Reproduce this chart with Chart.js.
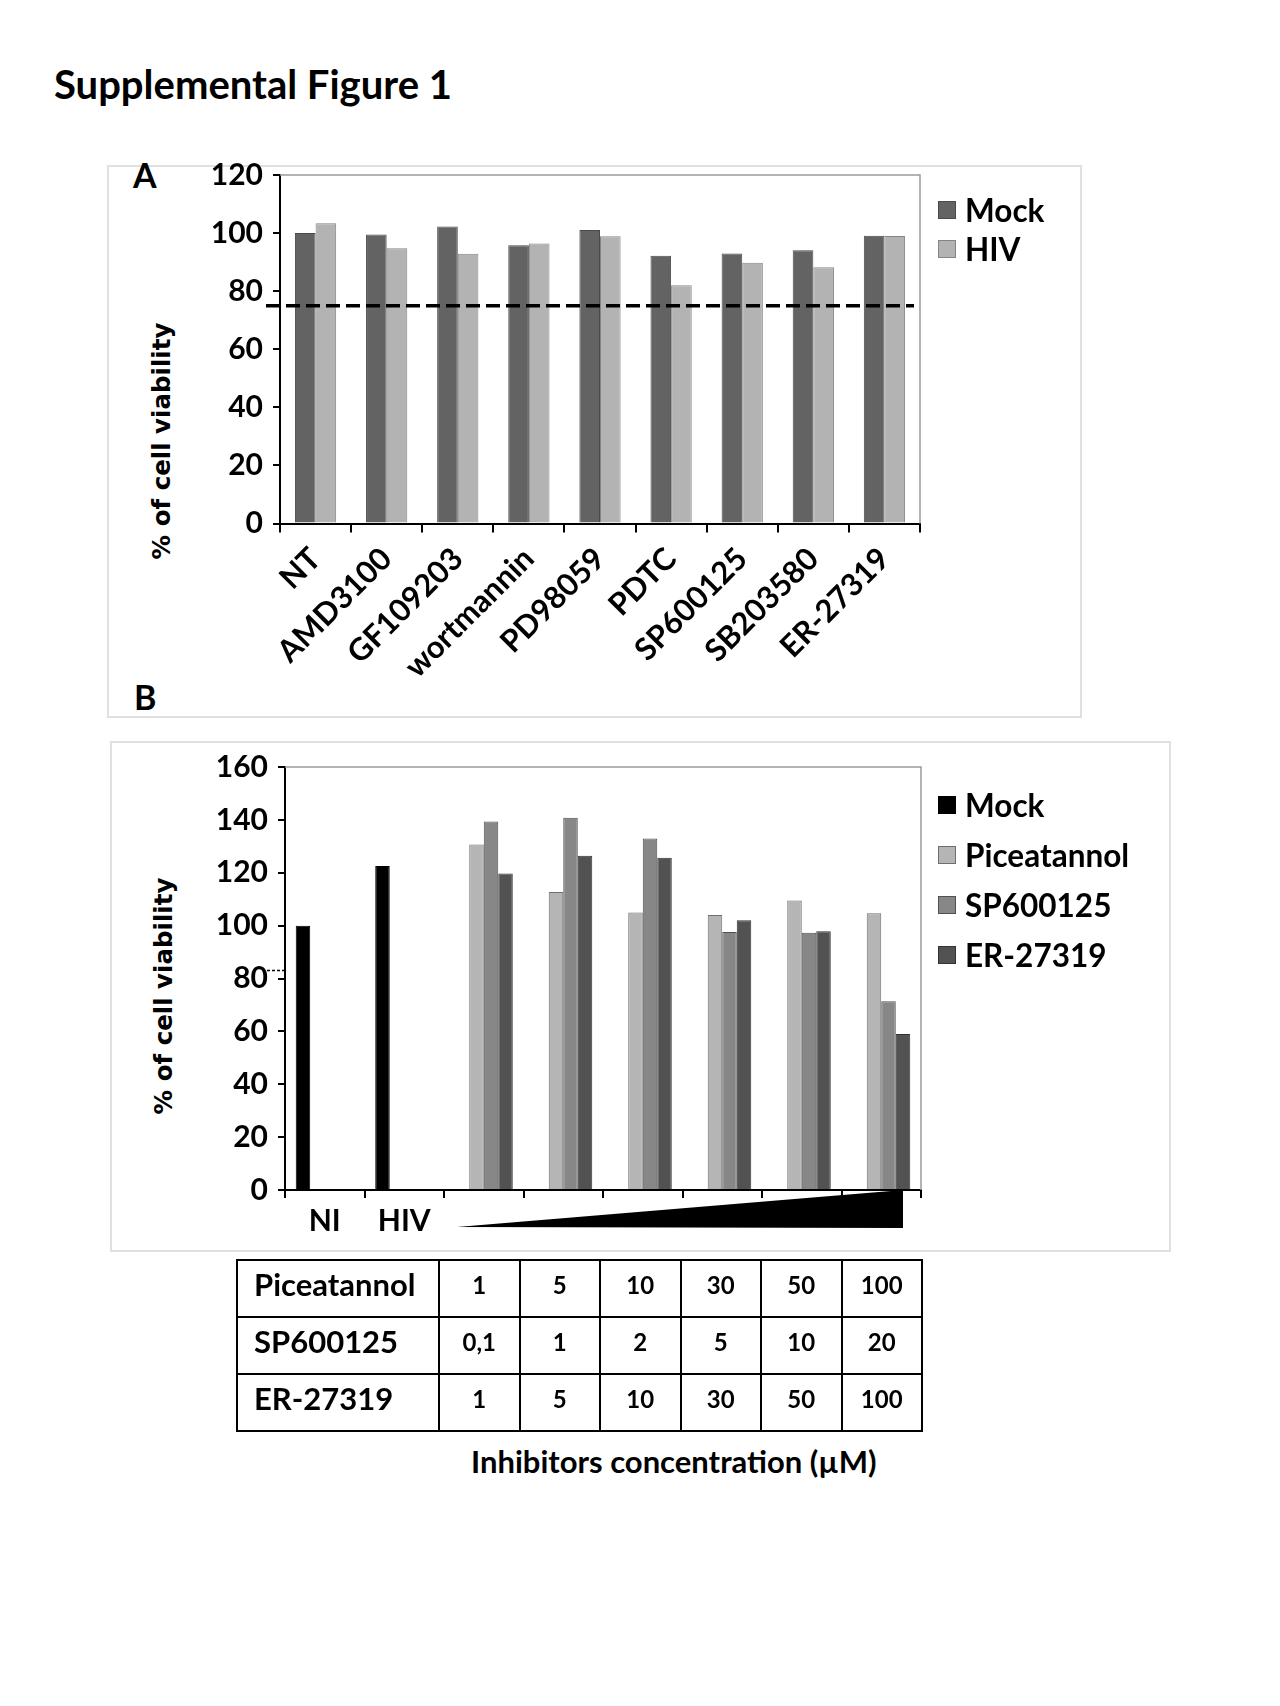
<!DOCTYPE html>
<html lang="en">
<head>
<meta charset="UTF-8">
<script src="https://cdn.jsdelivr.net/npm/chart.js"></script>
<title>Supplemental Figure 1</title>
<style>
    body { margin: 0; width: 1280px; height: 1706px; background: #fff; position: relative; font-family: Lato, sans-serif; color: #000; }
    .title { position: absolute; left: 54px; top: 59px; font-size: 40px; font-weight: bold; line-height: 50px; }
    .panel { position: absolute; border: 2px solid #e0e0e0; box-sizing: border-box; }
    .letter { position: absolute; font-size: 34px; font-weight: bold; line-height: 1; }
    .ytitle { position: absolute; font-family: 'DejaVu Sans', sans-serif; font-size: 24.5px; font-weight: bold; white-space: nowrap;
              transform: translate(-50%, -50%) rotate(-90deg); }
    .chartbox { position: absolute; }
    .legend { position: absolute; font-size: 31.5px; font-weight: bold; }
    .legend div { display: flex; align-items: center; white-space: nowrap; }
    .legend span.sw { display: inline-block; width: 18px; height: 18px; margin-right: 9px; box-sizing: border-box; }
    table.conc { position: absolute; left: 236px; top: 1259px; border-collapse: collapse; }
    table.conc td { border: 2px solid #000; height: 57px; text-align: center; font-size: 24px; font-weight: bold; width: 80.5px; padding: 0 0 9px 0; box-sizing: border-box; }
    table.conc td.row { text-align: left; font-size: 31px; padding-left: 16px; width: 202px; }
    .caption { position: absolute; left: 471px; top: 1442px; font-size: 31px; font-weight: bold; }
</style>
</head>
<body>
    <div class="title">Supplemental Figure 1</div>

    <div class="panel" style="left:107px; top:165px; width:975px; height:553px;"></div>
    <div class="letter" style="left:133px; top:158px;">A</div>
    <div class="letter" style="left:134px; top:680px;">B</div>
    <div class="ytitle" style="left:161px; top:441px;">% of cell viability</div>
    <div class="chartbox" style="left:100px; top:147px; width:840px; height:563px;">
        <canvas id="chartA"></canvas>
    </div>
    <div class="legend" id="legendA" style="left:938px; top:190px;"></div>

    <div class="panel" style="left:110px; top:741px; width:1061px; height:511px;"></div>
    <div class="ytitle" style="left:163px; top:996px;">% of cell viability</div>
    <div class="chartbox" style="left:100px; top:739px; width:840px; height:521px;">
        <canvas id="chartB"></canvas>
    </div>
    <div class="legend" id="legendB" style="left:938px; top:780px;"></div>

    <table class="conc" id="concTable"></table>
    <div class="caption">Inhibitors concentration (µM)</div>

<script>
// panel A
var inhibitors = ['NT', 'AMD3100', 'GF109203', 'wortmannin', 'PD98059', 'PDTC', 'SP600125', 'SB203580', 'ER-27319'];
var mockA = [100, 99.5, 102.3, 95.8, 101.1, 92.2, 93.0, 94.1, 99.1];
var hivA = [103.4, 94.8, 92.9, 96.4, 98.9, 82.0, 89.8, 88.2, 99.0];
var cutoffA = 75;
var ticksA = [0, 20, 40, 60, 80, 100, 120];

// panel B
var groupsB = ['NI', 'HIV', '', '', '', '', '', ''];
var mockB = [100, 122.6, null, null, null, null, null, null];
var piceatannolB = [null, null, 130.7, 112.7, 105.0, 104.0, 109.5, 104.7];
var sp600125B = [null, null, 139.4, 140.8, 133.0, 97.6, 97.3, 71.4];
var er27319B = [null, null, 119.7, 126.4, 125.7, 102.0, 97.9, 59.0];
var stubB = 83;
var ticksB = [0, 20, 40, 60, 80, 100, 120, 140, 160];

// concentration table
var concNames = ['Piceatannol', 'SP600125', 'ER-27319'];
var concPiceatannol = ['1', '5', '10', '30', '50', '100'];
var concSP600125 = ['0,1', '1', '2', '5', '10', '20'];
var concER27319 = ['1', '5', '10', '30', '50', '100'];

Chart.defaults.font.family = 'Lato';
Chart.defaults.color = '#000';
Chart.defaults.animation = false;

function yScale(ticks, max, w) {
    return {
        min: 0, max: max,
        afterBuildTicks: function (s) { s.ticks = ticks.map(function (v) { return { value: v }; }); },
        afterFit: function (s) { s.width = w; },
        grid: { drawOnChartArea: false, color: '#000', lineWidth: 2, tickLength: 7 },
        border: { color: '#000', width: 2 },
        ticks: { font: { size: 30, weight: 'bold' }, padding: 10, color: '#000' }
    };
}

// grey frame on top and right of the plot, like the original
var framePlugin = {
    id: 'frame',
    afterDraw: function (chart) {
        var a = chart.chartArea, ctx = chart.ctx;
        ctx.save();
        ctx.strokeStyle = '#9a9a9a';
        ctx.lineWidth = 1.5;
        ctx.beginPath();
        ctx.moveTo(a.left, a.top);
        ctx.lineTo(a.right, a.top);
        ctx.lineTo(a.right, a.bottom);
        ctx.stroke();
        ctx.restore();
    }
};

var cutoffPlugin = {
    id: 'cutoff',
    afterDatasetsDraw: function (chart) {
        var a = chart.chartArea, ctx = chart.ctx;
        var y = chart.scales.y.getPixelForValue(cutoffA);
        ctx.save();
        ctx.strokeStyle = '#000';
        ctx.lineWidth = 3.5;
        ctx.setLineDash([14, 6]);
        ctx.beginPath();
        ctx.moveTo(a.left - 14, y);
        ctx.lineTo(a.right - 6, y);
        ctx.stroke();
        ctx.restore();
    }
};

var wedgePlugin = {
    id: 'wedge',
    afterDraw: function (chart) {
        var a = chart.chartArea, ctx = chart.ctx, x = chart.scales.x;
        var half = (x.getPixelForValue(1) - x.getPixelForValue(0)) / 2;
        var left = x.getPixelForValue(2) - half + 13;
        var right = a.right - 18;
        ctx.save();
        ctx.fillStyle = '#000';
        ctx.beginPath();
        ctx.moveTo(left, a.bottom + 37);
        ctx.lineTo(right, a.bottom);
        ctx.lineTo(right, a.bottom + 38);
        ctx.closePath();
        ctx.fill();
        // short dashed remnant left of the axis
        var ys = chart.scales.y.getPixelForValue(stubB);
        ctx.strokeStyle = '#000';
        ctx.lineWidth = 1.5;
        ctx.setLineDash([3, 2]);
        ctx.beginPath();
        ctx.moveTo(a.left - 18, ys);
        ctx.lineTo(a.left, ys);
        ctx.stroke();
        ctx.restore();
    }
};

var dsA = [
    { label: 'Mock', data: mockA, backgroundColor: '#636363', borderColor: '#4a4a4a', borderWidth: 1 },
    { label: 'HIV', data: hivA, backgroundColor: '#b3b3b3', borderColor: '#858585', borderWidth: 1 }
];

new Chart(document.getElementById('chartA'), {
    type: 'bar',
    data: { labels: inhibitors, datasets: dsA },
    options: {
        responsive: true, maintainAspectRatio: false,
        layout: { padding: { top: 21, right: 20, left: 0, bottom: 0 } },
        plugins: { legend: { display: false }, tooltip: { enabled: false } },
        datasets: { bar: { categoryPercentage: 0.58, barPercentage: 1 } },
        scales: {
            x: {
                afterFit: function (s) { s.height = 186.5; },
                grid: { drawOnChartArea: false, offset: true, color: '#000', lineWidth: 2, tickLength: 9 },
                border: { color: '#000', width: 2 },
                ticks: { font: { size: 31, weight: 'bold' }, minRotation: 45, maxRotation: 45, autoSkip: false, padding: 8, color: '#000' }
            },
            y: yScale(ticksA, 120, 180)
        }
    },
    plugins: [framePlugin, cutoffPlugin]
});

var dsB = [
    { label: 'Mock', data: mockB, backgroundColor: '#000000', borderColor: '#000000', borderWidth: 1 },
    { label: 'Piceatannol', data: piceatannolB, backgroundColor: '#b5b5b5', borderColor: '#6e6e6e', borderWidth: 1 },
    { label: 'SP600125', data: sp600125B, backgroundColor: '#878787', borderColor: '#505050', borderWidth: 1 },
    { label: 'ER-27319', data: er27319B, backgroundColor: '#525252', borderColor: '#333333', borderWidth: 1 }
];

new Chart(document.getElementById('chartB'), {
    type: 'bar',
    data: { labels: groupsB, datasets: dsB },
    options: {
        responsive: true, maintainAspectRatio: false,
        layout: { padding: { top: 25, right: 19, left: 0, bottom: 0 } },
        plugins: { legend: { display: false }, tooltip: { enabled: false } },
        datasets: { bar: { categoryPercentage: 0.73, barPercentage: 1 } },
        scales: {
            x: {
                afterFit: function (s) { s.height = 70; },
                grid: { drawOnChartArea: false, offset: true, color: '#000', lineWidth: 2, tickLength: 8 },
                border: { color: '#000', width: 2 },
                ticks: { font: { size: 30, weight: 'bold' }, maxRotation: 0, autoSkip: false, padding: 5, color: '#000' }
            },
            y: yScale(ticksB, 160, 185)
        }
    },
    plugins: [framePlugin, wedgePlugin]
});

// html legends from the dataset lists
function buildLegend(id, ds, gap) {
    var box = document.getElementById(id);
    ds.forEach(function (d) {
        var row = document.createElement('div');
        row.style.height = gap + 'px';
        row.innerHTML = '<span class="sw" style="background:' + d.backgroundColor + ';border:1px solid ' + d.borderColor + '"></span>' + d.label;
        box.appendChild(row);
    });
}
buildLegend('legendA', dsA, 39);
buildLegend('legendB', dsB, 50);

// concentration table
var tbl = document.getElementById('concTable');
[concPiceatannol, concSP600125, concER27319].forEach(function (vals, i) {
    var tr = document.createElement('tr');
    tr.innerHTML = '<td class="row">' + concNames[i] + '</td>' + vals.map(function (v) { return '<td>' + v + '</td>'; }).join('');
    tbl.appendChild(tr);
});
</script>
</body>
</html>
